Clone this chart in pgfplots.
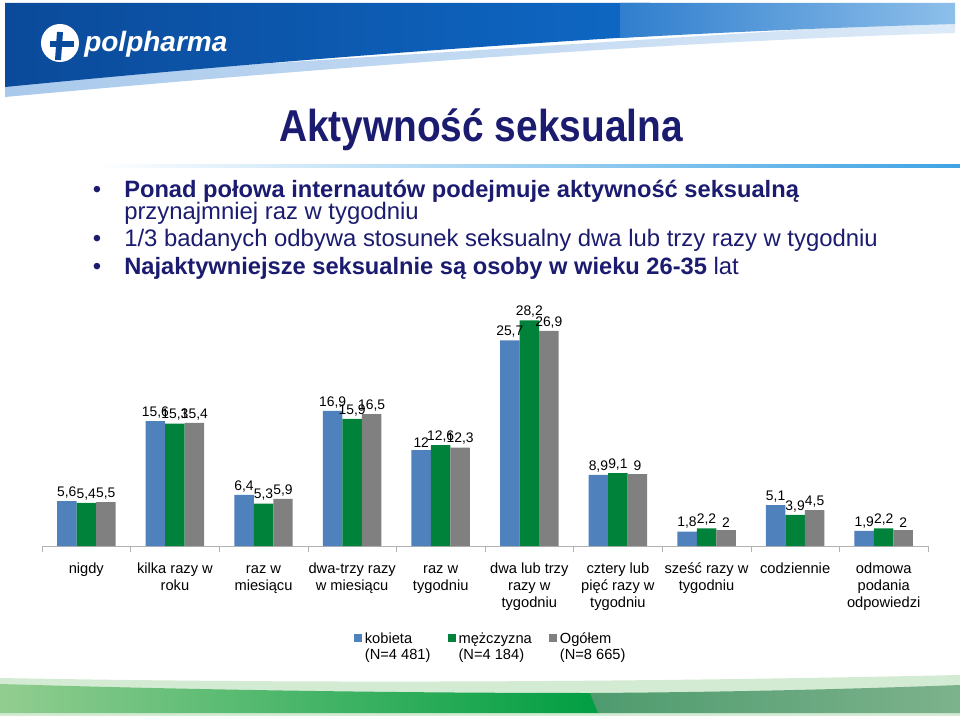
\documentclass[border=0pt]{standalone}
\usepackage{fontspec}
\setmainfont{Liberation Sans}
\newfontfamily\titlefont[FakeStretch=0.87]{Liberation Sans}
\usepackage{pgfplots}
\pgfplotsset{compat=1.18}
\definecolor{cblue}{HTML}{4F81BD}
\definecolor{cgreen}{HTML}{00823B}
\definecolor{cgray}{HTML}{808080}
\definecolor{navy}{HTML}{1B1B70}
\definecolor{hdark}{HTML}{0B4A9A}
\definecolor{hmid}{HTML}{0E68C4}
\definecolor{hlight}{HTML}{B8D7F3}
\definecolor{hlight2}{HTML}{8DBFEA}
\definecolor{hstrip}{HTML}{A9C9EC}
\definecolor{hstrip2}{HTML}{DCEAF8}
\definecolor{uline}{HTML}{3FA3E4}
\definecolor{fg1}{HTML}{92CD90}
\definecolor{fg2}{HTML}{009E42}
\definecolor{fg3}{HTML}{4E9B6E}
\definecolor{fg4}{HTML}{7DB28D}
\definecolor{fstrip}{HTML}{D3EAD3}
\begin{document}
\begin{tikzpicture}
\begin{scope}[x=0.75pt,y=-0.75pt]
\useasboundingbox (0,0) rectangle (960,716);
\fill[white] (0,0) rectangle (960,716);
% header
\shade[left color=hstrip, right color=hstrip2] (5,80) -- (5,97) .. controls (300,70) and (650,42) .. (955,33) -- (955,20) -- cycle;
\shade[left color=hdark, right color=hmid] (5,3) -- (650,3) -- (650,36) .. controls (450,48) and (250,63) .. (5,87) -- cycle;
\shade[left color=hmid!80!hlight, middle color=hlight, right color=hlight2] (620,3) -- (955,3) -- (955,24) .. controls (850,27) and (750,31) .. (620,38) -- cycle;
% logo
\fill[white] (60,43) circle (19);
\draw[hdark, line width=4.5] (50,44) -- (74,44);
\draw[hdark, line width=4.5] (60,32) -- (58,60);
\fill[hdark] (60,43) circle (3);
\node[anchor=base west, inner sep=0, text=white, font=\bfseries\itshape\fontsize{21}{24}\selectfont] at (84,52) {polpharma};
% title
\node[anchor=base, inner sep=0, text=navy, font=\titlefont\bfseries\fontsize{33.5}{40}\selectfont] at (481,142) {Aktywność seksualna};
\shade[left color=white, right color=uline] (95,165) rectangle (960,168);
% bullets
\begin{scope}[every node/.style={anchor=base west, inner sep=0, text=navy, font=\fontsize{17.9}{21}\selectfont}]
\node[anchor=base] at (97,198) {•};
\node at (124,198) {\fontsize{17.75}{21}\selectfont\bfseries Ponad połowa internautów podejmuje aktywność seksualną};
\node at (124,220) {przynajmniej raz w tygodniu};
\node[anchor=base] at (97,247) {•};
\node at (124,247) {1/3 badanych odbywa stosunek seksualny dwa lub trzy razy w tygodniu};
\node[anchor=base] at (97,275) {•};
\node at (124,275) {{\fontsize{17.75}{21}\selectfont\bfseries Najaktywniejsze seksualnie są osoby w wieku 26-35} lat};
\end{scope}
% footer
\fill[fstrip] (0,678) .. controls (320,684) and (640,682) .. (960,675) -- (960,716) -- (0,716) -- cycle;
\shade[left color=fg1, right color=fg2] (0,684) .. controls (200,690) and (400,693) .. (592,693) -- (600,713) -- (0,713) -- cycle;
\shade[left color=fg3, right color=fg4] (590,693) .. controls (750,692) and (880,688) .. (960,685) -- (960,713) -- (598,713) -- cycle;
\end{scope}
\begin{axis}[
  at={(31.5pt,-409.5pt)}, anchor=south west,
  scale only axis, width=664.5pt, height=180pt,
  ymin=0, ymax=30, xmin=-0.5, xmax=9.5,
  clip=false,
  axis x line*=bottom, axis y line=none,
  x axis line style={draw=gray!60, -},
  ybar, bar width=0.22,
  xtick={0,...,9},
  major tick length=0pt,
  typeset ticklabels with strut,
  xticklabels={nigdy, {kilka razy w\\roku}, {raz w\\miesiącu}, {dwa-trzy razy\\w miesiącu}, {raz w\\tygodniu}, {dwa lub trzy\\razy w\\tygodniu}, {cztery lub\\pięć razy w\\tygodniu}, {sześć razy w\\tygodniu}, codziennie, {odmowa\\podania\\odpowiedzi}},
  xticklabel style={align=center, font=\fontsize{11}{12.75}\selectfont, anchor=north, yshift=-8pt},
  extra x ticks={-0.5,0.5,1.5,2.5,3.5,4.5,5.5,6.5,7.5,8.5,9.5},
  extra x tick labels={,,,,,,,,,,},
  extra x tick style={major tick length=4.5pt, tick align=outside, tick style={draw=gray!60}},
  /pgf/number format/use comma,
  /pgf/number format/assume math mode=true,
  nodes near coords,
  every node near coord/.append style={font=\fontsize{10.4}{12}\selectfont, text=black, inner sep=2pt},
  legend columns=3,
  legend style={at={(0.507,-0.335)}, anchor=north, draw=none, fill=none, font=\fontsize{11}{12.3}\selectfont, cells={align=left}, /tikz/every even column/.append style={column sep=11pt}},
  legend image code/.code={\fill[#1] (0pt,3.5pt) rectangle (6pt,9.5pt);},
]
\addplot[fill=cblue, draw=none, bar shift=-0.22] coordinates {(0,5.6) (1,15.6) (2,6.4) (3,16.9) (4,12) (5,25.7) (6,8.9) (7,1.8) (8,5.1) (9,1.9)};
\addplot[fill=cgreen, draw=none, bar shift=0] coordinates {(0,5.4) (1,15.3) (2,5.3) (3,15.9) (4,12.6) (5,28.2) (6,9.1) (7,2.2) (8,3.9) (9,2.2)};
\addplot[fill=cgray, draw=none, bar shift=0.22] coordinates {(0,5.5) (1,15.4) (2,5.9) (3,16.5) (4,12.3) (5,26.9) (6,9) (7,2) (8,4.5) (9,2)};
\addlegendentry{\strut kobieta\\\strut(N=4 481)}
\addlegendentry{\strut mężczyzna\\\strut(N=4 184)}
\addlegendentry{\strut Ogółem\\\strut(N=8 665)}
\end{axis}
\end{tikzpicture}
\end{document}
